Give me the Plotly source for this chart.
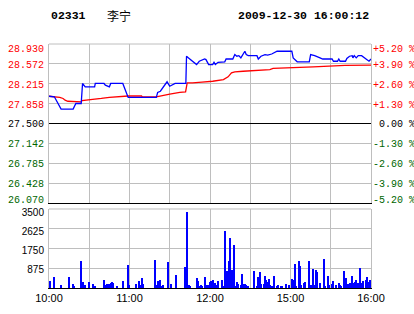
import plotly.graph_objects as go

# ---------------- data ----------------
stock_code = "02331"
stock_name = "李宁"
timestamp = "2009-12-30 16:00:12"
prev_close = 27.500

# minutes since open (10:00-12:30, 14:30-16:00 => 0..240)
price_min = [0, 4, 9, 18, 20, 24, 25, 27, 34, 34.5, 41, 42, 45, 46, 55, 57, 59, 80, 81, 83, 84, 86, 88,
             90, 92, 94, 102, 102.5, 104, 106, 108, 110, 112, 116, 117, 119, 122, 123, 124, 126, 131,
             132, 137, 138.5, 140, 141.5, 143, 145, 146, 147, 148.5, 155, 156, 158, 161, 163, 166, 170,
             181, 182, 185, 194, 195, 198, 199.5, 202, 204, 211, 212, 215, 216, 217, 221, 222, 224, 226,
             226.5, 227.5, 229, 230.5, 233, 235.5, 237, 238.5, 240]
price_val = [27.99, 27.98, 27.76, 27.76, 27.86, 27.86, 28.22, 28.16, 28.16, 28.22, 28.22, 28.19, 28.16,
             28.22, 28.22, 28.08, 27.97, 27.97, 28.06, 28.08, 28.11, 28.17, 28.25, 28.17, 28.19, 28.22,
             28.22, 28.71, 28.68, 28.64, 28.60, 28.56, 28.62, 28.66, 28.65, 28.56, 28.56, 28.60, 28.56,
             28.60, 28.61, 28.66, 28.66, 28.74, 28.71, 28.72, 28.68, 28.77, 28.80, 28.74, 28.72, 28.72,
             28.66, 28.71, 28.74, 28.73, 28.75, 28.80, 28.80, 28.68, 28.61, 28.61, 28.74, 28.72, 28.70,
             28.68, 28.66, 28.66, 28.62, 28.62, 28.66, 28.62, 28.62, 28.67, 28.71, 28.72, 28.68, 28.72,
             28.68, 28.72, 28.72, 28.68, 28.66, 28.62, 28.66]

avg_min = [0, 5.5, 8, 10.5, 12, 14, 24, 24.6, 29, 31.6, 36, 39, 45, 53, 59, 69, 69.5, 80, 84, 90, 97.5,
           101.8, 103, 107, 114, 122, 130, 131.6, 133.5, 136, 138.5, 144.7, 156, 164.6, 167, 182, 197,
           220.6, 240]
avg_val = [27.99, 27.98, 27.97, 27.95, 27.92, 27.90, 27.89, 27.91, 27.92, 27.93, 27.94, 27.95, 27.97,
           27.99, 27.995, 27.995, 27.98, 27.98, 27.995, 28.03, 28.06, 28.07, 28.23, 28.23, 28.245,
           28.26, 28.29, 28.31, 28.34, 28.41, 28.43, 28.44, 28.46, 28.47, 28.49, 28.50, 28.52, 28.545,
           28.55]

vol_min = [1, 4, 9, 15, 18, 19, 24, 25, 27, 30, 33, 34, 41, 42, 43, 44, 45, 46, 47, 48, 51, 55, 59, 60,
           65, 67, 68, 69, 70, 79, 80, 81, 82, 83, 84, 85, 89, 91, 95, 101, 103, 104, 105, 110, 111,
           112, 113, 114, 116, 118, 119, 120, 121, 122, 123, 124, 125, 126, 129, 130, 131, 132, 133,
           134, 135, 136, 137, 138, 139, 140, 141, 143, 144, 145, 146, 147, 148, 153, 155, 156, 157,
           158, 160, 161, 162, 163, 164, 165, 166, 168, 170, 171, 173, 174, 177, 179, 181, 182, 183,
           184, 186, 187, 188, 190, 191, 194, 195, 197, 198, 199, 200, 202, 205, 206, 208, 209, 211,
           212, 214, 216, 217, 218, 220, 221, 223, 224, 226, 227, 228, 229, 230, 232, 233, 234, 236,
           237, 238, 239, 240]
vol_val = [300, 500, 150, 500, 190, 100, 1180, 270, 150, 250, 190, 100, 370, 120, 190, 120, 190, 220,
           250, 220, 100, 330, 1030, 120, 190, 300, 130, 440, 190, 1250, 150, 300, 100, 370, 100, 150,
           1170, 190, 590, 930, 3380, 150, 100, 440, 330, 100, 150, 100, 490, 150, 150, 270, 330, 370,
           190, 220, 150, 330, 370, 100, 2540, 100, 740, 1180, 2215, 810, 810, 1890, 100, 250, 190,
           150, 635, 190, 190, 150, 100, 770, 100, 490, 690, 190, 190, 546, 370, 250, 400, 150, 100,
           546, 100, 150, 100, 100, 190, 150, 413, 370, 1080, 100, 1210, 960, 150, 221, 266, 1210,
           150, 856, 150, 780, 690, 221, 1300, 100, 546, 150, 190, 296, 150, 221, 150, 100, 740, 443,
           190, 221, 546, 221, 250, 340, 221, 886, 221, 325, 369, 473, 250, 369, 369]

price_ticks = [28.930, 28.572, 28.215, 27.858, 27.500, 27.142, 26.785, 26.428, 26.070]
price_labels = ["28.930", "28.572", "28.215", "27.858", "27.500", "27.142", "26.785", "26.428", "26.070"]
pct_labels = ["+5.20 %", "+3.90 %", "+2.60 %", "+1.30 %", "\u00a00.00 %", "-1.30 %", "-2.60 %", "-3.90 %", "-5.20 %"]
vol_ticks = [875, 1750, 2625, 3500]
vol_labels = ["875", "1750", "2625", "3500"]
time_ticks = [0, 30, 60, 90, 120, 150, 180, 210, 240]
time_labels = ["10:00", "", "11:00", "", "12:00", "", "15:00", "", "16:00"]

# ---------------- styling ----------------
RED = "#FF0000"
GREEN = "#006600"
GRID = "#BEBEBE"
mono = "Liberation Mono, DejaVu Sans Mono, monospace"
sans = "Liberation Sans, Arial, sans-serif"

# label nudges in pixels (positive = downwards), keeps edge labels inside the panels
price_label_nudge_px = [4, 1, 1, 1, 0, 0, 0, 0, -3]
vol_label_nudge_px = [1, 2, 3, 4]
price_px_per_unit = 159.0 / (price_ticks[0] - price_ticks[-1])
vol_px_per_unit = 79.0 / vol_ticks[-1]
price_label_pos = [t - n / price_px_per_unit for t, n in zip(price_ticks, price_label_nudge_px)]
vol_label_pos = [t - n / vol_px_per_unit for t, n in zip(vol_ticks, vol_label_nudge_px)]


def colored(labels, ticks):
    out = []
    for lab, t in zip(labels, ticks):
        if abs(t - prev_close) < 1e-9:
            c = "#000000"
        elif t > prev_close:
            c = RED
        else:
            c = GREEN
        out.append(f"<span style='color:{c}'>{lab}</span>")
    return out


fig = go.Figure()

fig.add_trace(go.Bar(x=vol_min, y=vol_val, width=0.75, marker=dict(color="#0000FF", line=dict(width=0)),
                     xaxis="x", yaxis="y", showlegend=False))
fig.add_trace(go.Scatter(x=avg_min, y=avg_val, mode="lines", line=dict(color=RED, width=1.3),
                         xaxis="x2", yaxis="y2", showlegend=False))
fig.add_trace(go.Scatter(x=price_min, y=price_val, mode="lines", line=dict(color="#0000FF", width=1.3),
                         xaxis="x2", yaxis="y2", showlegend=False))
# invisible anchors for the label axes
for ya in ["y3", "y4"]:
    fig.add_trace(go.Scatter(x=[0], y=[prev_close], mode="markers", marker=dict(opacity=0),
                             xaxis="x2", yaxis=ya, showlegend=False, hoverinfo="skip"))
fig.add_trace(go.Scatter(x=[0], y=[0], mode="markers", marker=dict(opacity=0),
                         xaxis="x", yaxis="y5", showlegend=False, hoverinfo="skip"))

prange = [price_ticks[-1], price_ticks[0]]
vrange = [0, vol_ticks[-1]]

fig.update_layout(
    width=414, height=314,
    margin=dict(l=49, r=43, t=44, b=26, autoexpand=False),
    paper_bgcolor="white", plot_bgcolor="white",
    bargap=0,
    xaxis=dict(domain=[0, 1], anchor="y", range=[0, 240], tickmode="array", tickvals=time_ticks,
               ticktext=time_labels, showgrid=True, gridcolor=GRID, gridwidth=1, zeroline=False,
               showline=True, linecolor="#000000", linewidth=1, ticks="", automargin=False,
               tickfont=dict(family=sans, size=11, color="#000000")),
    yaxis=dict(domain=[0, 0.3238], anchor="x", range=vrange, tickmode="array", tickvals=vol_ticks,
               showticklabels=False, showgrid=True, gridcolor=GRID, zeroline=False,
               showline=True, mirror=True, linecolor=GRID, ticks="", automargin=False),
    yaxis5=dict(overlaying="y", anchor="x", side="left", range=vrange, tickmode="array",
                tickvals=vol_label_pos, ticktext=vol_labels, showgrid=False, zeroline=False,
                showline=False, ticks="", ticklabelstandoff=4, automargin=False,
                tickfont=dict(family=sans, size=10, color="#000000")),
    xaxis2=dict(domain=[0, 1], anchor="y2", matches="x", range=[0, 240], tickmode="array",
                tickvals=time_ticks, showticklabels=False, showgrid=True, gridcolor=GRID,
                zeroline=False, showline=True, linecolor="#000000", linewidth=1, ticks="",
                automargin=False),
    yaxis2=dict(domain=[0.3484, 1], anchor="x2", range=prange, tickmode="array", tickvals=price_ticks,
                showticklabels=False, showgrid=True, gridcolor=GRID, zeroline=False, showline=True,
                mirror=True, linecolor=GRID, ticks="", automargin=False),
    yaxis3=dict(overlaying="y2", anchor="x2", side="left", range=prange, tickmode="array",
                tickvals=price_label_pos, ticktext=colored(price_labels, price_ticks),
                showgrid=False, zeroline=False, showline=False, ticks="", ticklabelstandoff=4,
                automargin=False, tickfont=dict(family=mono, size=10)),
    yaxis4=dict(overlaying="y2", anchor="x2", side="right", range=prange, tickmode="array",
                tickvals=price_label_pos, ticktext=colored(pct_labels, price_ticks),
                showgrid=False, zeroline=False, showline=False, ticks="", ticklabelstandoff=1,
                automargin=False, tickfont=dict(family=mono, size=10)),
    shapes=[
        dict(type="line", xref="x2 domain", yref="y2", x0=0, x1=1, y0=prev_close, y1=prev_close,
             line=dict(color="#000000", width=1.2)),
        dict(type="line", xref="x2 domain", yref="y2 domain", x0=0, x1=1, y0=1, y1=1,
             line=dict(color=GRID, width=1)),
        dict(type="line", xref="x domain", yref="y domain", x0=0, x1=1, y0=1, y1=1,
             line=dict(color=GRID, width=1)),
    ],
    annotations=[
        dict(text=f"<b>{stock_code}</b>", xref="paper", yref="paper", x=0.0, y=1.116,
             xanchor="left", yanchor="middle", showarrow=False,
             font=dict(family=mono, size=11.5, color="#000000")),
        dict(text=stock_name, xref="paper", yref="paper", x=(105 - 49) / 322, y=1.118,
             xanchor="left", yanchor="middle", showarrow=False,
             font=dict(family="Noto Sans CJK SC", size=12, color="#000000")),
        dict(text=f"<b>{timestamp}</b>", xref="paper", yref="paper", x=1.0, y=1.116,
             xanchor="right", yanchor="middle", showarrow=False,
             font=dict(family=mono, size=11.5, color="#000000")),
    ],
)

fig.write_html("out.html")
